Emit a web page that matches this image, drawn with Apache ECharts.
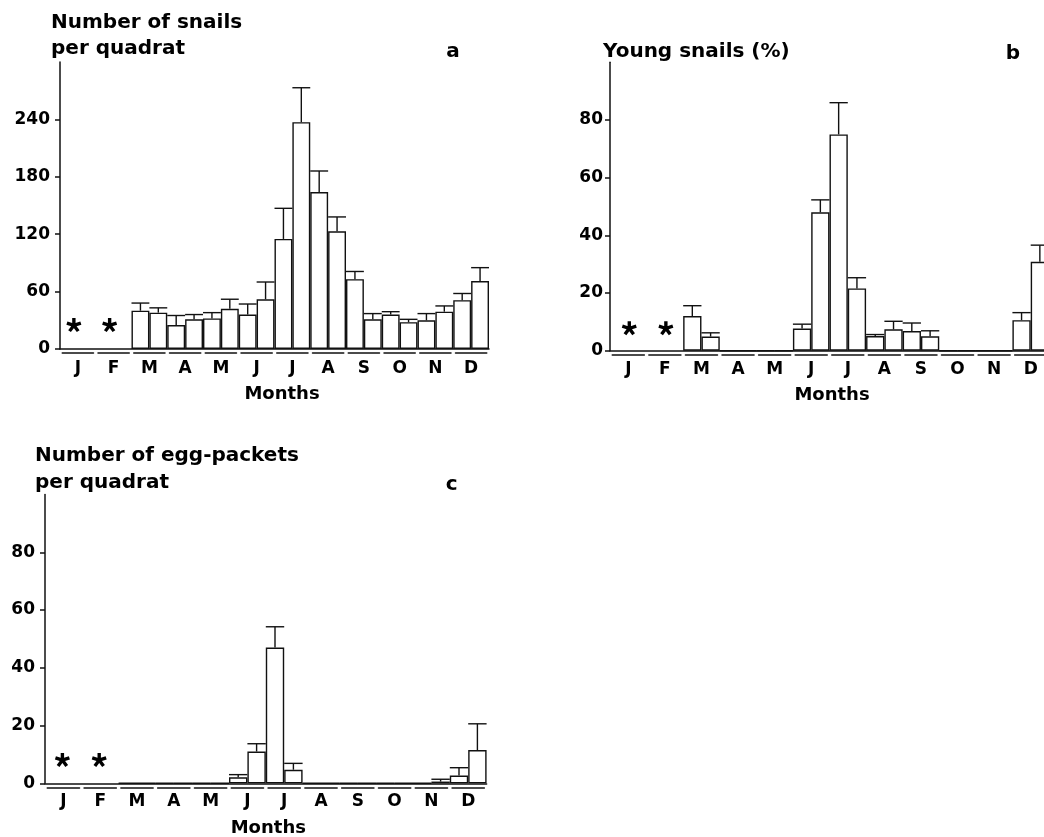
<!DOCTYPE html>
<html>
<head>
<meta charset="utf-8">
<script src="https://cdn.jsdelivr.net/npm/echarts@6/dist/echarts.min.js"></script>
<style>html,body{margin:0;padding:0;background:#fff;}#chart{width:1044px;height:837px;}</style>
</head>
<body>
<div id="chart"></div>
<script>
// ---- data ----
const halfMonths = ['J1','J2','F1','F2','M1','M2','A1','A2','My1','My2','Jn1','Jn2','Jl1','Jl2','Au1','Au2','S1','S2','O1','O2','N1','N2','D1','D2'];
const monthLabels = ['J','F','M','A','M','J','J','A','S','O','N','D'];

// a: number of snails per quadrat (mean, upper error)
const snailsMean = [null,null,null,null, 40,38, 25,31, 32,42, 36,52, 115,237, 164,123, 73,31, 36,28, 30,39, 51,71];
const snailsErr  = [null,null,null,null, 48,43, 35,36, 38,52, 47,70, 147,273, 186,138, 81,37, 39,31, 37,45, 58,85];
// b: young snails (%)
const youngMean = [null,null,null,null, 12,4.9, 0,0, 0,0, 7.7,48, 75,21.6, 5.1,7.4, 6.8,5.0, 0,0, 0,0, 10.6,30.8];
const youngErr  = [null,null,null,null, 15.6,6.2, null,null, null,null, 9.2,52.3, 86,25.3, 5.6,10.2, 9.6,6.9, null,null, null,null, 13.2,36.6];
// c: number of egg-packets per quadrat
const eggMean = [null,null,null,null, 0,0, 0,0, 0,0, 2.1,11.0, 47,4.7, 0,0, 0,0, 0,0, 0,0.6, 2.7,11.5];
const eggErr  = [null,null,null,null, null,null, null,null, null,null, 3.0,13.7, 54.2,6.9, null,null, null,null, null,null, null,1.4, 5.4,20.6];

// months with no sampling (asterisks) and the height at which the mark sits
const noDataMonths = [0, 1];
const asteriskA = 25, asteriskB = 7.8, asteriskC = 8.1;

const yTicksA = [0,60,120,180,240];
const yTicksBC = [0,20,40,60,80];

// ---- layout / style ----
const FONT = 'DejaVu Sans';
const INK = '#000';
const LINE = '#111';
const grids = [
  {left: 60,  top: 61.9,  width: 429,   height: 287.1},
  {left: 610, top: 62.3,  width: 439,   height: 288.4},
  {left: 45,  top: 494.5, width: 441.6, height: 288.8}
];

// five-armed bold asterisk glyph as a path symbol
function asteriskPath() {
  const L = 10, h = 2.3;
  let d = '';
  for (let k = 0; k < 5; k++) {
    const a = k * 72 * Math.PI / 180, c = Math.cos(a), s = Math.sin(a);
    const pts = [[-h, 1.5], [h, 1.5], [h, -L], [-h, -L]].map(p => [p[0] * c - p[1] * s, p[0] * s + p[1] * c]);
    d += 'M' + pts.map(p => p[0].toFixed(3) + ' ' + p[1].toFixed(3)).join(' L') + ' Z ';
  }
  return 'path://' + d;
}
const ASTERISK = asteriskPath();

const chart = echarts.init(document.getElementById('chart'), null, {renderer: 'canvas'});

function errSeries(gi, mean, err) {
  const data = [];
  mean.forEach((m, i) => { if (err[i] != null) data.push([i, m, err[i]]); });
  return {
    type: 'custom', xAxisIndex: gi * 2, yAxisIndex: gi, data: data, z: 3,
    renderItem: function (params, api) {
      const x = api.value(0);
      const p0 = api.coord([x, api.value(1)]);
      const p1 = api.coord([x, api.value(2)]);
      const w = api.size([1, 0])[0];
      const st = {stroke: LINE, lineWidth: 1.4};
      return {type: 'group', children: [
        {type: 'line', shape: {x1: p0[0], y1: p0[1], x2: p1[0], y2: p1[1]}, style: st},
        {type: 'line', shape: {x1: p1[0] - w / 2, y1: p1[1], x2: p1[0] + w / 2, y2: p1[1]}, style: st}
      ]};
    }
  };
}
function barSeries(gi, mean) {
  return {
    type: 'bar', xAxisIndex: gi * 2, yAxisIndex: gi, data: mean,
    barWidth: '100%', barCategoryGap: '0%', z: 2, silent: true,
    itemStyle: {color: '#fff', borderColor: LINE, borderWidth: 1.4}
  };
}
function starSeries(gi, value, dx) {
  return {
    type: 'scatter', xAxisIndex: gi * 2 + 1, yAxisIndex: gi, symbol: ASTERISK,
    symbolSize: [15, 14], symbolOffset: [dx, 0], silent: true,
    itemStyle: {color: INK, opacity: 1},
    data: noDataMonths.map(m => [m, value]), z: 4
  };
}

const xAxes = [], yAxes = [];
const labelMargins = [7, 6.5, 6];
const yMargins = [10, 7, 10];
const namePads = [[0, 0, 0, 15], [0, 0, 0, 5], [0, 0, 0, 5]];
grids.forEach((g, gi) => {
  const monthW = g.width / 12, gap = 4.5, dash = monthW - gap;
  xAxes.push({
    type: 'category', gridIndex: gi, data: halfMonths, boundaryGap: true,
    axisLine: {show: true, lineStyle: {color: LINE, width: 1.5}},
    axisTick: {show: false}, axisLabel: {show: false}, splitLine: {show: false}
  });
  xAxes.push({
    type: 'category', gridIndex: gi, data: monthLabels, boundaryGap: true,
    position: 'bottom', offset: 4,
    axisLine: {show: true, lineStyle: {color: LINE, width: 1.5, type: [dash, gap], dashOffset: dash + gap / 2}},
    axisTick: {show: false},
    axisLabel: {show: true, interval: 0, margin: labelMargins[gi], color: INK, fontFamily: FONT, fontWeight: 'bold', fontSize: 17},
    name: 'Months', nameLocation: 'middle', nameGap: 32,
    nameTextStyle: {color: INK, fontFamily: FONT, fontWeight: 'bold', fontSize: 18, padding: namePads[gi]}
  });
  const ticks = gi === 0 ? yTicksA : yTicksBC;
  yAxes.push({
    type: 'value', gridIndex: gi, min: 0, max: gi === 0 ? 300 : 100, interval: gi === 0 ? 60 : 20,
    axisLine: {show: true, lineStyle: {color: LINE, width: 1.5}},
    axisTick: {show: true, inside: false, length: 5, lineStyle: {color: LINE, width: 1.5}, customValues: ticks},
    axisLabel: {show: true, margin: yMargins[gi], color: INK, fontFamily: FONT, fontWeight: 'bold', fontSize: 17, customValues: ticks},
    splitLine: {show: false}
  });
});

function txt(text, x, y, size, align) {
  return {type: 'text', silent: true, style: {text: text, x: x, y: y, fill: INK,
    fontFamily: FONT, fontWeight: 'bold', fontSize: size, textAlign: align || 'left', textVerticalAlign: 'middle'}};
}

chart.setOption({
  backgroundColor: '#fff',
  animation: false,
  grid: grids.map(g => Object.assign({outerBoundsMode: 'none', containLabel: false}, g)),
  xAxis: xAxes,
  yAxis: yAxes,
  series: [
    barSeries(0, snailsMean), errSeries(0, snailsMean, snailsErr), starSeries(0, asteriskA, -4),
    barSeries(1, youngMean), errSeries(1, youngMean, youngErr), starSeries(1, asteriskB, 1),
    barSeries(2, eggMean), errSeries(2, eggMean, eggErr), starSeries(2, asteriskC, -1)
  ],
  graphic: [
    txt('Number of snails', 51, 22.5, 20),
    txt('per quadrat', 51, 49, 20),
    txt('a', 453, 52, 20, 'center'),
    txt('Young snails (%)', 603, 51.3, 20),
    txt('b', 1013, 53.4, 20, 'center'),
    txt('Number of egg-packets', 35, 456.2, 20),
    txt('per quadrat', 35, 483, 20),
    txt('c', 451.7, 484.4, 20, 'center')
  ]
});
</script>
</body>
</html>
